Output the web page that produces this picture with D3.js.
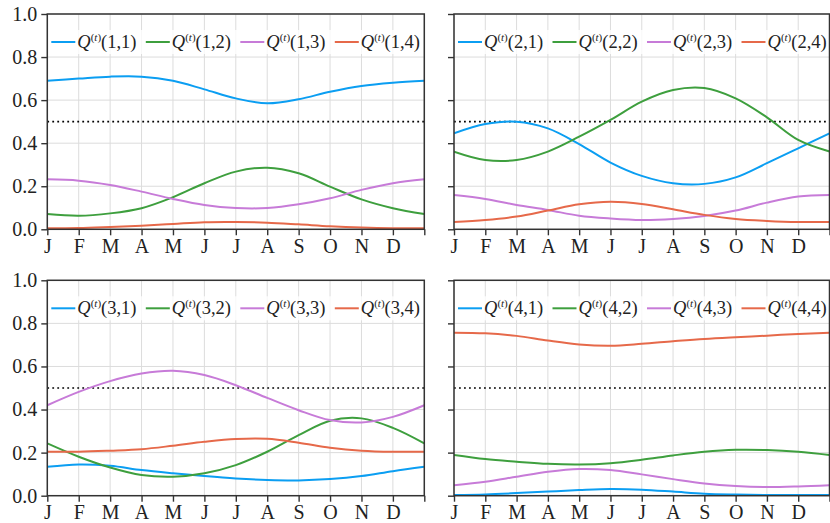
<!DOCTYPE html>
<html>
<head>
<meta charset="utf-8">
<script src="https://cdn.jsdelivr.net/npm/d3@7"></script>
<style>
  html, body { margin: 0; padding: 0; background: #fff; }
  svg { display: block; }
  svg text { font-family: "Liberation Serif"; fill: #222; }
</style>
</head>
<body>
<svg id="chart" width="830" height="523"></svg>
<script>
// Month labels along the x axis (ticks at month starts, 0..12)
const monthLabels = ["J", "F", "M", "A", "M", "J", "J", "A", "S", "O", "N", "D"];
const monthKnots = d3.range(13);
const yTickValues = [0, 0.2, 0.4, 0.6, 0.8, 1.0];
const seriesColors = ["#0b9ef2", "#3e9f3e", "#c77bd8", "#e6694a"];

// Transition probabilities from state 1, sampled at each month start (Jan .. next Jan)
const q11 = [0.690, 0.700, 0.709, 0.709, 0.690, 0.650, 0.608, 0.585, 0.604, 0.639, 0.666, 0.681, 0.690];
const q12 = [0.071, 0.063, 0.074, 0.098, 0.149, 0.214, 0.268, 0.286, 0.260, 0.198, 0.139, 0.098, 0.071];
const q13 = [0.232, 0.226, 0.206, 0.175, 0.141, 0.113, 0.099, 0.099, 0.116, 0.144, 0.183, 0.214, 0.232];
const q14 = [0.005, 0.006, 0.011, 0.017, 0.025, 0.033, 0.034, 0.031, 0.023, 0.014, 0.008, 0.005, 0.005];

// From state 2
const q21 = [0.446, 0.489, 0.500, 0.469, 0.396, 0.310, 0.248, 0.214, 0.211, 0.241, 0.307, 0.376, 0.446];
const q22 = [0.361, 0.322, 0.322, 0.361, 0.430, 0.508, 0.593, 0.647, 0.656, 0.608, 0.520, 0.415, 0.361];
const q23 = [0.159, 0.141, 0.113, 0.090, 0.063, 0.050, 0.043, 0.048, 0.062, 0.087, 0.124, 0.152, 0.159];
const q24 = [0.034, 0.043, 0.059, 0.087, 0.116, 0.128, 0.118, 0.093, 0.067, 0.048, 0.039, 0.034, 0.034];

// From state 3
const q31 = [0.134, 0.145, 0.139, 0.119, 0.104, 0.091, 0.080, 0.073, 0.071, 0.077, 0.091, 0.114, 0.134];
const q32 = [0.243, 0.181, 0.131, 0.096, 0.088, 0.104, 0.142, 0.204, 0.281, 0.348, 0.359, 0.315, 0.243];
const q33 = [0.420, 0.482, 0.532, 0.567, 0.580, 0.560, 0.513, 0.454, 0.397, 0.351, 0.340, 0.366, 0.420];
const q34 = [0.204, 0.204, 0.209, 0.216, 0.232, 0.250, 0.263, 0.264, 0.246, 0.223, 0.209, 0.204, 0.204];

// From state 4
const q41 = [0.003, 0.006, 0.012, 0.019, 0.026, 0.031, 0.028, 0.019, 0.009, 0.005, 0.003, 0.003, 0.003];
const q42 = [0.189, 0.170, 0.158, 0.148, 0.145, 0.151, 0.167, 0.187, 0.204, 0.213, 0.212, 0.204, 0.189];
const q43 = [0.049, 0.065, 0.088, 0.111, 0.124, 0.119, 0.099, 0.077, 0.057, 0.045, 0.040, 0.043, 0.049];
const q44 = [0.757, 0.754, 0.742, 0.720, 0.702, 0.696, 0.705, 0.717, 0.728, 0.736, 0.743, 0.751, 0.757];

const panelRows = [
  [q11, q12, q13, q14],
  [q21, q22, q23, q24],
  [q31, q32, q33, q34],
  [q41, q42, q43, q44]
];

// Panel frames in a 2x2 grid
const colX = [[47.3, 424.3], [454, 829.5]];
const rowY = [[14, 229.3], [280.3, 495.7]];

const FONT = "Liberation Serif";
const svg = d3.select("#chart");
const spineColor = "#333";

panelRows.forEach((series, p) => {
  const col = p % 2, row = Math.floor(p / 2);
  const [x0, x1] = colX[col];
  const [y0, y1] = rowY[row];

  const x = d3.scaleLinear().domain([0, 12]).range([x0, x1]);
  const y = d3.scaleLinear().domain([0, 1]).range([y1, y0]);

  const g = svg.append("g");

  // grid
  g.append("g").selectAll("line").data(monthKnots).join("line")
    .attr("x1", d => x(d)).attr("x2", d => x(d))
    .attr("y1", y0).attr("y2", y1)
    .attr("stroke", "#dcdcdc").attr("stroke-width", 1);
  g.append("g").selectAll("line").data(yTickValues).join("line")
    .attr("x1", x0).attr("x2", x1)
    .attr("y1", d => y(d)).attr("y2", d => y(d))
    .attr("stroke", "#dcdcdc").attr("stroke-width", 1);

  // reference line at 0.5
  g.append("line")
    .attr("x1", x0).attr("x2", x1)
    .attr("y1", y(0.5)).attr("y2", y(0.5))
    .attr("stroke", "#000").attr("stroke-width", 1.7)
    .attr("stroke-dasharray", "1.8,3.2");

  // series curves
  const clipId = "clip" + p;
  svg.append("clipPath").attr("id", clipId)
    .append("rect").attr("x", x0).attr("y", y0 - 2)
    .attr("width", x1 - x0).attr("height", y1 - y0 + 2);
  const line = d3.line()
    .x((d, i) => x(monthKnots[i]))
    .y(d => y(d))
    .curve(d3.curveCatmullRom.alpha(0.5));
  g.append("g").attr("clip-path", `url(#${clipId})`)
    .selectAll("path").data(series).join("path")
    .attr("d", d => line(d))
    .attr("fill", "none")
    .attr("stroke", (d, i) => seriesColors[i])
    .attr("stroke-width", 2);

  // axes
  const xAxis = d3.axisBottom(x).tickValues(monthKnots)
    .tickSize(6).tickPadding(3)
    .tickFormat(d => d < 12 ? monthLabels[d] : "");
  const xg = g.append("g").attr("transform", `translate(0,${y1})`).call(xAxis);
  const yAxis = d3.axisLeft(y).tickValues(yTickValues)
    .tickSize(6).tickPadding(4)
    .tickFormat(col === 0 ? d3.format(".1f") : () => "");
  const yg = g.append("g").attr("transform", `translate(${x0},0)`).call(yAxis);

  [xg, yg].forEach(a => {
    a.attr("font-family", FONT).attr("font-size", 20);
    a.select(".domain").remove();
    a.selectAll(".tick line").attr("stroke", spineColor).attr("stroke-width", 1.4);
    a.selectAll(".tick text")
      .attr("font-family", FONT)
      .style("font-family", FONT)
      .style("font-size", "20px").attr("fill", "#222");
  });
  xg.selectAll(".tick text").attr("dy", "0.74em");

  // frame
  g.append("rect")
    .attr("x", x0).attr("y", y0)
    .attr("width", x1 - x0).attr("height", y1 - y0)
    .attr("fill", "none").attr("stroke", spineColor).attr("stroke-width", 1.5);

  // legend
  const legY = y0 + 28;
  g.append("rect")
    .attr("x", x0 + 2).attr("y", legY - 12)
    .attr("width", x1 - x0 - 4).attr("height", 24)
    .attr("fill", "#fff").attr("fill-opacity", 0.8);
  const pitch = 94.5;
  series.forEach((s, i) => {
    const lx = x0 + 4 + i * pitch;
    g.append("line")
      .attr("x1", lx).attr("x2", lx + 24)
      .attr("y1", legY).attr("y2", legY)
      .attr("stroke", seriesColors[i]).attr("stroke-width", 2);
    const t = g.append("text")
      .attr("x", lx + 26).attr("y", legY + 6)
      .style("font-family", FONT)
      .style("font-size", "18.5px");
    t.append("tspan").style("font-style", "italic").text("Q");
    t.append("tspan").attr("dy", -7).style("font-size", "11px").text("(");
    t.append("tspan").style("font-size", "11px").style("font-style", "italic").text("t");
    t.append("tspan").style("font-size", "11px").text(")");
    t.append("tspan").attr("dy", 7).text(`(${p + 1},${i + 1})`);
  });
});
</script>
</body>
</html>
